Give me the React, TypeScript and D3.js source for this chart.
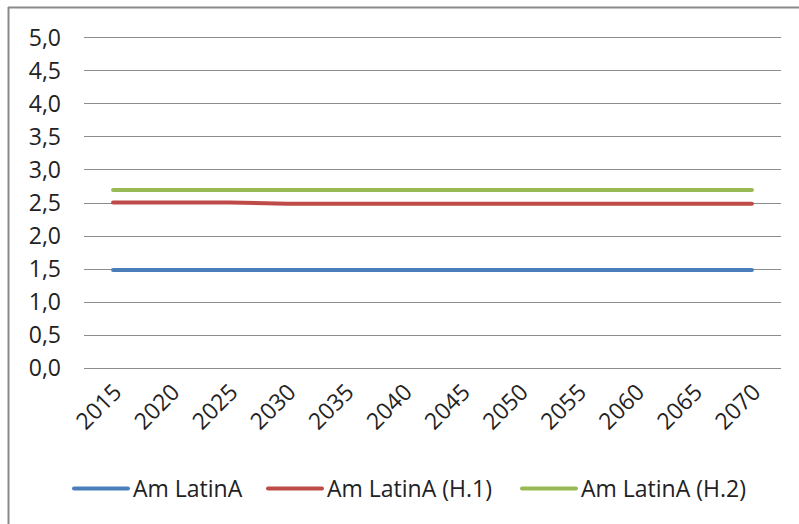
import React from "react";
import * as d3 from "d3";

const years = [2015, 2020, 2025, 2030, 2035, 2040, 2045, 2050, 2055, 2060, 2065, 2070];
const amLatina = [1.48, 1.48, 1.48, 1.48, 1.48, 1.48, 1.48, 1.48, 1.48, 1.48, 1.48, 1.48];
const amLatinaH1 = [2.5, 2.5, 2.5, 2.48, 2.48, 2.48, 2.48, 2.48, 2.48, 2.48, 2.48, 2.48];
const amLatinaH2 = [2.69, 2.69, 2.69, 2.69, 2.69, 2.69, 2.69, 2.69, 2.69, 2.69, 2.69, 2.69];
const yTicks = [0, 0.5, 1, 1.5, 2, 2.5, 3, 3.5, 4, 4.5, 5];
const seriesNames = ["Am LatinA", "Am LatinA (H.1)", "Am LatinA (H.2)"];
const colors = ["#4a7ebb", "#be4b48", "#98b954"];

const W = 799;
const H = 524;
const plot = { left: 84, right: 781, top: 37.3, bottom: 367.7 };
const FONT = "'Open Sans', Lato, sans-serif";
const FS = 23;

export default function App() {
  const x = d3
    .scaleBand<number>()
    .domain(years)
    .range([plot.left, plot.right]);
  const y = d3.scaleLinear().domain([0, 5]).range([plot.bottom, plot.top]);
  const line = d3
    .line<number>()
    .x((_, i) => (x(years[i]) as number) + x.bandwidth() / 2)
    .y((d) => y(d));
  const data = [amLatina, amLatinaH1, amLatinaH2];
  const fmt = (v: number) => v.toFixed(1).replace(".", ",");

  const legendX = [74, 268, 522];

  return (
    <svg
      width={W}
      height={H}
      style={{ position: "absolute", left: 0, top: 0, background: "#fff" }}
      fontFamily={FONT}
    >
      <rect x={0} y={0} width={W} height={H} fill="#fff" />
      {/* frame */}
      <line x1={8} x2={W} y1={7.5} y2={7.5} stroke="#898989" strokeWidth={2} />
      <line x1={8.5} x2={8.5} y1={7} y2={H} stroke="#898989" strokeWidth={2} />
      {/* gridlines */}
      {yTicks.map((t) => (
        <g key={t}>
          <line
            x1={plot.left}
            x2={plot.right}
            y1={Math.round(y(t)) + 0.5}
            y2={Math.round(y(t)) + 0.5}
            stroke="#8c8c8c"
            strokeWidth={1}
          />
          <text
            x={61}
            y={y(t)}
            dy="0.36em"
            textAnchor="end"
            fontSize={FS}
            fill="#222"
          >
            {fmt(t)}
          </text>
        </g>
      ))}
      {/* x labels */}
      {years.map((yr) => {
        const cx = (x(yr) as number) + x.bandwidth() / 2;
        return (
          <text
            key={yr}
            transform={`translate(${cx + 10},${plot.bottom + 26}) rotate(-45)`}
            textAnchor="end"
            fontSize={FS}
            fill="#222"
          >
            {yr}
          </text>
        );
      })}
      {/* series */}
      {data.map((s, i) => (
        <path
          key={i}
          d={line(s) || ""}
          fill="none"
          stroke={colors[i]}
          strokeWidth={4}
          strokeLinecap="round"
          strokeLinejoin="round"
        />
      ))}
      {/* legend */}
      {seriesNames.map((n, i) => (
        <g key={n}>
          <line
            x1={legendX[i]}
            x2={legendX[i] + 54}
            y1={488.5}
            y2={488.5}
            stroke={colors[i]}
            strokeWidth={4}
            strokeLinecap="round"
          />
          <text
            x={legendX[i] + 59}
            y={496.5}
            fontSize={FS}
            fill="#222"
          >
            {n}
          </text>
        </g>
      ))}
    </svg>
  );
}
